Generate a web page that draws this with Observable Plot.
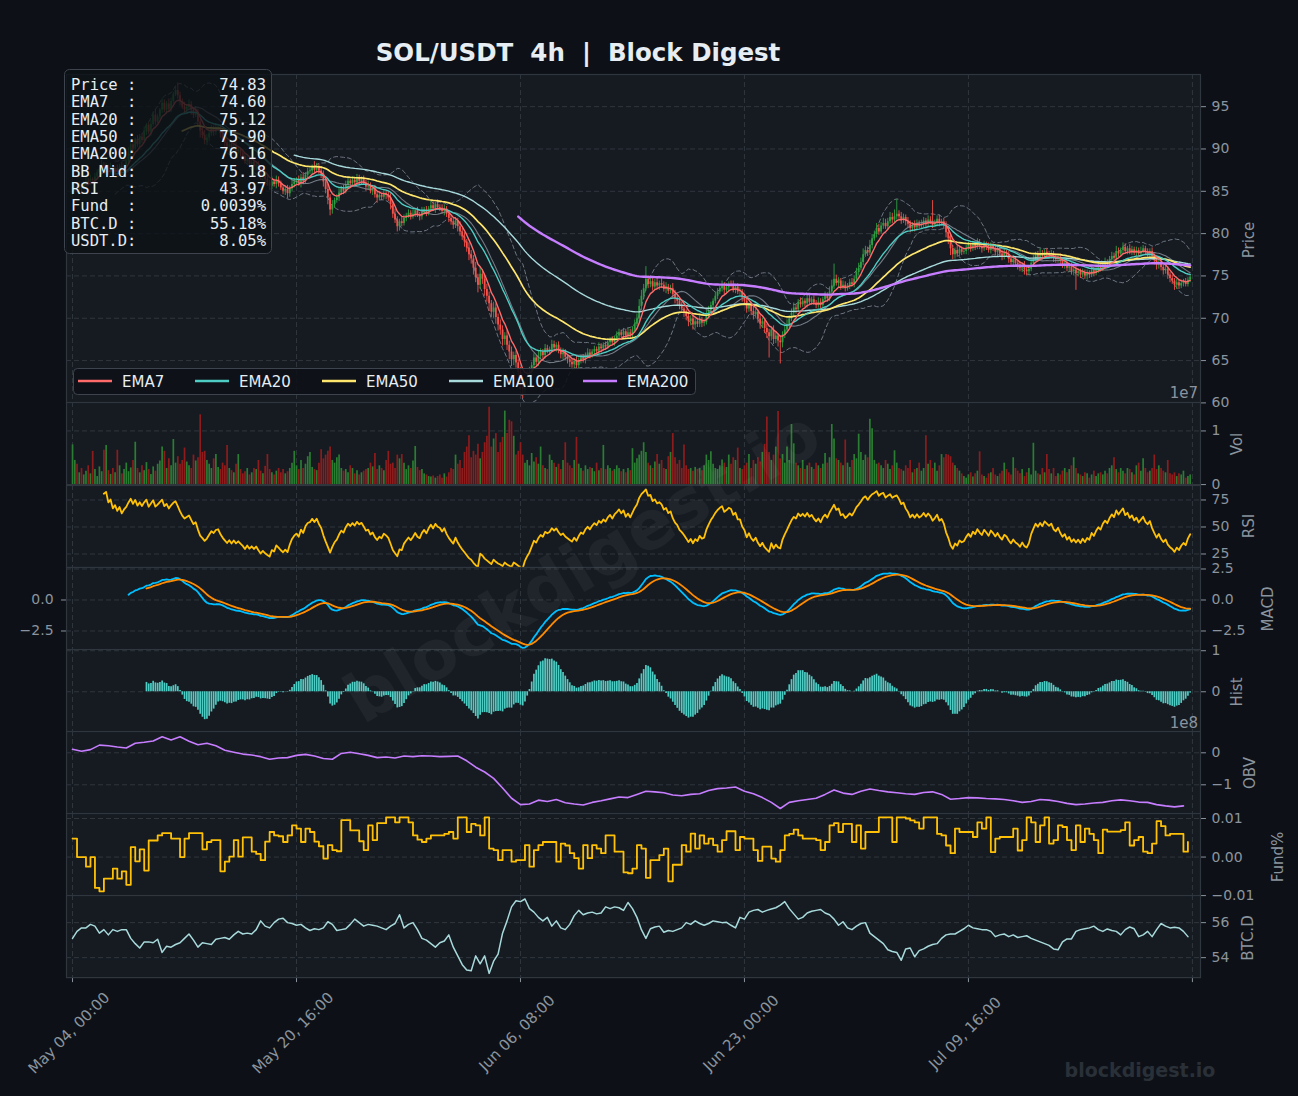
<!DOCTYPE html>
<html><head><meta charset="utf-8">
<script src="https://cdn.jsdelivr.net/npm/d3@7"></script>
<script src="https://cdn.jsdelivr.net/npm/@observablehq/plot@0.6"></script>
<style>
html,body{margin:0;padding:0;background:#0d1117;}
#root{position:relative;width:1298px;height:1096px;background:#0d1117;overflow:hidden;font-family:"DejaVu Sans",sans-serif;}
#root svg{position:absolute;left:0;}
</style></head><body><div id="root"></div>
<script>
// ---------------- DATA ----------------
const firstOpen = 84.8;
const closes = [
85.0,85.4,85.2,85.7,85.5,85.9,86.2,86.0,86.4,86.3,
86.7,87.2,87.6,88.1,87.4,87.9,87.2,87.8,87.1,87.7,
87.2,87.9,87.3,88.0,88.5,89.5,90.5,90.0,91.1,90.5,
91.4,91.0,92.0,92.8,92.0,92.9,94.0,93.2,93.8,94.6,
95.4,94.6,95.3,94.7,95.6,96.4,96.9,96.3,95.6,95.0,
94.6,94.9,95.2,94.6,94.0,94.3,93.2,92.1,91.6,91.0,
91.3,91.8,92.3,92.0,92.4,92.5,91.8,91.2,90.7,90.2,
90.5,89.9,90.2,89.7,89.9,89.5,89.1,88.5,88.8,88.2,
88.4,87.9,88.1,87.4,86.7,86.9,86.4,86.0,85.6,86.1,
85.8,86.3,85.9,85.4,85.0,85.2,84.7,85.3,85.8,86.1,
86.3,85.9,86.6,86.2,86.9,87.3,87.4,87.8,87.5,87.9,
87.4,87.0,86.1,85.2,84.2,82.8,83.4,83.9,84.2,84.8,
85.3,85.0,85.7,86.2,85.9,86.3,86.0,86.5,86.2,86.4,
86.0,85.5,85.6,85.0,85.2,84.6,84.2,84.5,84.3,84.7,
84.5,84.2,83.4,82.3,81.6,80.8,81.4,81.2,81.8,82.1,
82.4,82.0,82.3,82.7,82.2,82.0,82.5,82.8,82.4,82.9,
83.3,82.9,83.4,83.1,83.0,82.6,82.9,82.3,81.8,81.4,
81.0,81.5,80.8,80.2,79.6,79.0,78.3,77.5,77.0,75.9,
74.8,73.9,75.2,74.6,73.4,72.6,71.7,70.7,71.2,70.1,
69.2,68.6,67.5,67.9,66.8,66.0,65.1,65.6,64.7,63.6,
62.2,61.6,62.5,63.1,63.6,64.4,65.3,64.8,65.5,66.0,
65.6,66.4,66.1,66.3,66.9,66.5,66.8,66.2,65.7,65.9,
65.4,65.1,64.8,64.5,64.9,64.4,64.9,65.3,65.1,65.6,
65.9,65.6,66.0,66.3,66.1,66.6,66.4,66.8,66.6,67.1,
67.4,67.1,67.6,67.9,68.3,68.0,68.4,67.9,68.3,68.0,
68.6,69.3,69.9,71.4,72.6,73.5,74.6,74.0,74.3,73.7,
74.2,73.8,74.1,73.9,73.4,73.7,73.2,73.5,72.8,72.3,
72.0,71.4,71.1,70.7,70.2,69.6,69.9,69.2,69.6,69.3,
69.8,69.4,69.5,70.3,70.9,71.5,72.0,72.6,73.1,73.5,
73.8,73.3,73.6,74.0,73.9,73.4,73.7,73.1,73.1,72.4,
72.0,71.1,71.5,70.8,70.4,70.7,69.9,69.3,69.6,68.8,
68.3,67.8,68.6,67.5,67.9,67.3,67.1,68.0,68.6,69.2,
69.9,70.6,71.2,71.0,71.9,71.6,72.0,71.7,72.3,71.9,
72.2,71.8,71.5,71.9,71.5,72.2,72.6,72.3,73.1,73.8,
74.6,74.1,74.4,73.7,73.9,73.5,73.8,74.2,74.0,74.6,
75.4,75.9,76.6,77.5,78.0,77.7,78.6,79.4,79.9,80.6,
80.2,80.9,81.2,80.8,81.4,81.9,81.6,82.0,82.3,82.0,
81.6,81.9,81.4,81.1,80.6,81.0,80.7,81.2,80.9,81.1,
81.5,81.2,81.6,81.4,81.0,81.3,81.7,81.2,81.4,81.0,
80.1,79.4,78.2,77.5,78.0,77.6,78.1,77.8,77.9,78.3,
78.6,78.2,78.7,78.4,78.9,78.5,78.2,78.7,78.4,78.0,
78.5,78.2,77.8,78.1,77.6,77.3,77.7,77.5,77.0,76.6,
76.9,76.5,76.3,75.9,76.2,75.7,75.5,75.8,76.5,77.0,
77.5,77.2,77.6,77.3,77.8,77.6,77.4,77.6,77.1,76.9,
77.2,76.7,76.3,76.5,75.9,76.1,75.5,75.7,75.3,75.5,
75.1,75.4,75.0,75.3,75.1,75.6,75.3,75.7,76.0,75.8,
76.3,76.6,76.4,76.9,77.3,77.1,77.9,77.6,78.0,78.4,
77.9,78.2,77.8,78.1,77.7,78.0,77.6,77.9,78.2,77.8,
77.6,77.9,77.3,76.8,76.3,76.6,76.0,75.6,75.8,75.1,
74.7,74.4,73.9,74.2,73.8,74.1,74.3,74.0,74.5,74.83];

// upper / lower wick length, in tenths of USDT
const hiWick = [
3,4,2,5,3,2,4,3,5,2, 4,3,2,6,3,4,2,5,3,2, 4,3,5,2,3,6,4,3,2,5, 3,4,6,2,3,5,4,7,3,2, 5,4,3,6,4,3,5,9,4,3,
5,3,6,4,3,7,4,3,5,6, 4,3,5,4,6,3,4,5,3,4, 5,3,4,6,3,2,4,3,5,3, 4,6,3,4,5,3,2,4,3,6, 3,5,4,3,2,4,5,3,6,4,
3,5,4,6,3,4,5,3,7,4, 3,5,4,3,6,4,5,3,4,6, 3,4,5,3,2,4,3,5,4,3, 4,3,6,4,3,5,3,4,2,5, 3,4,5,3,6,4,3,5,4,3,
4,3,5,2,4,3,6,3,4,3, 5,4,3,6,3,4,5,3,4,3, 5,4,3,6,4,5,3,6,5,4, 7,4,9,5,4,6,5,4,7,5, 4,6,5,4,7,5,6,4,5,4,
6,5,4,7,6,4,5,3,6,4, 3,5,4,3,5,4,3,4,3,5, 4,3,5,4,3,6,4,3,4,3, 5,4,3,4,3,5,4,3,4,5, 3,4,3,5,4,3,4,3,5,4,
4,5,6,8,7,5,15,4,5,6, 4,5,3,6,4,5,3,4,6,5, 4,3,5,4,3,5,4,6,3,4, 5,3,4,6,5,4,3,5,4,3, 6,4,5,3,4,5,3,4,5,3,
4,5,3,4,6,4,3,5,4,3, 5,4,3,5,4,3,6,4,5,6, 4,5,6,4,3,5,4,3,5,4, 3,4,3,5,4,3,5,4,6,7, 18,5,4,3,5,4,3,4,5,4,
5,6,5,7,5,4,6,5,4,6, 5,4,6,5,4,6,5,8,17,4, 5,4,3,5,4,3,5,4,3,5, 4,3,5,4,25,3,4,5,3,4, 4,3,5,4,3,5,4,3,4,3,
4,3,4,3,5,4,3,4,3,5, 4,3,5,4,3,4,5,3,4,3, 5,4,3,4,3,5,4,3,5,4, 3,4,6,4,3,4,3,4,3,5, 3,4,3,5,4,3,4,3,4,3,
3,4,3,4,3,4,3,4,5,3, 4,5,3,4,5,4,6,4,3,5, 4,3,5,4,3,4,3,5,4,3, 4,3,4,3,5,3,4,3,4,3, 3,4,3,4,3,4,3,4,3,3];
const loWick = [
3,2,4,3,5,3,2,4,3,5, 3,4,2,3,4,5,3,2,4,3, 5,3,2,4,3,4,3,5,2,3, 4,3,2,4,3,5,3,4,2,3, 4,3,5,3,4,3,2,4,5,3,
4,5,3,6,4,3,5,8,4,5, 6,4,3,5,4,3,5,4,6,5, 4,3,5,4,3,4,5,3,4,5, 3,4,5,3,4,5,3,4,5,4, 3,5,4,3,4,5,6,4,3,4,
4,3,5,4,3,4,3,5,4,3, 4,5,6,5,8,7,5,4,3,4, 3,4,3,5,4,3,4,3,5,4, 3,5,4,3,5,4,6,3,4,3, 5,4,6,5,4,6,5,4,3,4,
3,4,3,4,3,5,4,3,4,3, 4,3,5,3,4,3,5,4,5,4, 5,4,6,5,4,6,5,7,6,8, 6,9,5,6,8,7,9,6,7,8, 7,6,8,7,6,9,8,7,6,8,
7,11,6,5,4,6,5,4,5,4, 5,4,3,5,4,3,5,4,5,6, 4,5,6,4,7,5,4,3,4,5, 3,4,3,4,3,4,5,3,4,3, 4,3,4,3,4,3,4,3,4,3,
3,4,3,4,5,4,3,5,4,5, 4,3,5,4,3,5,4,3,5,6, 5,4,5,6,5,6,5,6,5,4, 4,5,4,3,4,3,4,3,4,3, 4,5,3,4,3,4,5,3,4,5,
4,5,4,5,6,4,5,6,5,6, 7,25,5,6,5,7,25,6,4,3, 4,3,4,5,3,4,3,4,5,3, 4,3,4,3,5,4,3,4,3,4, 4,3,5,4,3,4,3,4,3,4,
3,4,3,4,3,4,3,4,3,4, 4,3,4,3,4,3,4,3,4,3, 5,4,5,4,5,4,5,4,3,4, 4,5,4,3,4,3,5,4,3,5, 6,7,8,6,5,4,3,4,3,4,
3,4,3,4,3,4,5,3,4,3, 4,3,4,5,4,5,4,3,5,4, 4,5,6,4,5,6,5,4,3,4, 3,4,3,4,3,4,3,4,5,4, 4,5,4,5,4,5,4,5,20,4,
4,3,4,5,4,3,4,3,4,3, 3,4,3,4,3,4,3,4,3,4, 3,4,3,4,3,4,3,4,3,4, 4,5,4,5,6,5,4,5,4,5, 5,4,6,5,4,3,4,3,3,3];

// volume per candle, in units of 1e5
const volumeE5 = [
74,45,38,22,30,18,25,35,20,62, 28,15,33,24,64,73,26,19,30,22, 64,35,20,28,40,24,31,45,79,30, 22,35,26,41,28,19,33,25,38,44, 70,62,30,48,35,84,40,52,38,45,
68,42,35,30,55,44,50,130,60,62, 45,38,30,48,56,32,28,40,35,73, 30,26,22,38,56,28,20,24,30,18, 22,30,28,45,25,20,34,56,28,22, 18,25,30,22,28,20,24,30,40,62,
35,28,45,30,38,52,60,32,28,26, 40,65,48,55,62,70,45,40,50,55, 30,25,28,22,35,30,20,26,18,22, 25,28,30,40,33,58,28,35,30,26, 45,62,38,40,30,55,48,56,40,28,
35,30,44,71,32,26,28,20,18,15, 14,16,12,15,18,12,20,14,22,30, 28,55,38,45,30,60,70,91,50,62, 55,75,48,60,78,90,144,70,85,95, 60,78,88,137,95,120,117,90,55,62,
78,55,40,45,35,58,42,50,38,70, 35,30,28,55,45,40,32,38,28,45, 78,40,35,30,45,88,38,30,25,35, 28,32,30,24,40,26,30,73,28,35, 30,25,28,35,30,24,28,22,30,26,
67,40,48,55,62,78,60,40,35,30, 42,56,38,45,30,28,52,60,95,50, 38,45,30,74,35,28,30,25,32,28, 30,26,35,55,45,61,38,30,28,35, 46,40,32,55,38,50,45,68,30,28,
35,40,56,30,45,38,50,42,60,75, 126,60,45,55,70,136,48,56,40,70, 45,112,76,40,35,30,45,28,35,40, 32,28,40,35,30,38,58,40,50,112, 85,48,45,40,35,83,40,32,45,56,
48,94,60,45,55,50,122,104,45,38, 40,35,30,45,38,28,35,63,40,30, 28,25,35,30,45,22,28,30,40,25, 30,91,38,45,30,40,25,35,56,50, 56,55,52,40,35,30,25,20,15,12,
18,22,14,20,25,61,18,15,12,20, 22,30,18,15,20,25,40,28,22,18, 50,30,25,20,28,15,22,30,18,77, 25,20,18,30,22,56,28,20,30,15, 20,18,25,30,22,28,35,50,30,20,
18,15,22,20,12,18,25,15,20,22, 18,25,20,30,35,50,28,22,30,25, 20,30,28,22,18,35,40,25,48,30, 22,25,30,55,28,35,30,25,22,45, 20,18,22,15,20,18,25,12,15,18];

// OBV, one reading every 4 candles, units of 1e8
const obvStep = 4;
const obvE8 = [
0.11,0.05,0.10,0.24,0.22,0.18,0.15,0.30,0.33,0.37,0.50,0.40,0.50,0.36,0.25,0.30,0.22,0.08,0.02,-0.04,
-0.07,-0.12,-0.20,-0.16,-0.15,-0.08,-0.05,-0.10,-0.18,-0.20,-0.02,0.02,-0.03,-0.08,-0.15,-0.13,-0.16,-0.10,-0.12,-0.09,
-0.10,-0.12,-0.11,-0.10,-0.25,-0.45,-0.60,-0.80,-1.10,-1.42,-1.62,-1.60,-1.48,-1.52,-1.46,-1.56,-1.60,-1.63,-1.55,-1.50,
-1.44,-1.38,-1.40,-1.30,-1.20,-1.22,-1.25,-1.32,-1.34,-1.30,-1.28,-1.18,-1.12,-1.10,-1.07,-1.20,-1.28,-1.40,-1.55,-1.74,
-1.55,-1.50,-1.46,-1.42,-1.30,-1.16,-1.26,-1.30,-1.20,-1.13,-1.18,-1.22,-1.25,-1.28,-1.30,-1.24,-1.22,-1.30,-1.45,-1.43,
-1.40,-1.41,-1.43,-1.44,-1.46,-1.50,-1.55,-1.52,-1.46,-1.48,-1.52,-1.58,-1.62,-1.60,-1.57,-1.55,-1.50,-1.47,-1.50,-1.54,
-1.55,-1.62,-1.66,-1.69,-1.66];

// funding rate, one reading every 8h (2 candles), units of 1e-4 %
const fundStep = 2;
const fundE4 = [
48,0,0,-25,0,-80,-89,-56,-56,-30, -56,-37,-72,26,-11,20,-35,43,43,56, 62,62,48,48,0,48,62,62,62,20,
39,44,44,-37,-12,1,44,1,51,51, 14,8,-8,40,65,56,54,39,56,82, 74,39,74,65,40,28,-4,31,18,15,
96,96,69,69,41,18,82,44,88,88, 103,103,90,103,103,90,56,45,39,48, 56,56,56,60,65,48,103,103,65,86,
82,56,103,22,18,-8,18,18,-12,-8, -8,31,-25,18,31,39,39,39,-12,35, 30,10,-3,-30,31,-3,31,22,10,56,
56,14,14,-40,-42,-30,31,22,-54,-8, -8,5,22,-63,-20,-20,31,14,61,22, 56,35,48,31,14,44,67,67,18,52,
48,48,18,-10,27,27,-4,-12,18,56, 60,71,56,48,48,48,44,18,39,82, 88,65,86,86,39,82,22,65,65,65,
103,103,103,39,103,103,100,95,90,74, 103,103,103,60,56,30,10,74,65,65, 65,52,90,74,103,13,48,52,52,52,
74,17,44,103,90,39,82,103,35,44, 82,78,44,18,82,39,74,60,44,10, 71,66,66,66,70,90,30,44,52,14,
10,35,93,80,56,60,60,60,14,39];

// BTC dominance %, one reading every 8h (2 candles)
const btcStep = 2;
const btcDom = [
55.1,55.5,55.7,55.7,55.9,55.8,55.4,55.6,55.3,55.6, 55.5,55.6,55.6,55.1,54.8,54.55,54.9,54.9,54.85,55.05,
54.3,54.65,54.6,54.75,54.85,55.1,55.35,55.0,54.6,54.85, 54.8,54.75,55.05,55.1,55.15,55.05,55.3,55.5,55.35,55.4,
55.35,55.6,56.1,55.8,55.7,56.0,56.2,56.25,56.0,55.95, 55.85,55.9,55.7,55.55,55.65,55.6,55.7,56.05,55.9,55.55,
55.6,55.65,55.9,56.2,56.0,55.8,55.9,55.85,55.8,55.7, 55.6,55.8,55.95,56.45,55.7,55.9,56.0,55.6,55.1,55.0,
54.8,54.6,54.85,54.95,55.3,54.6,54.1,53.6,53.3,53.25, 54.1,53.65,54.1,53.1,53.8,54.2,55.4,56.1,56.9,57.25,
57.2,57.35,56.8,56.6,56.3,56.1,56.3,55.8,56.1,55.7, 55.6,55.9,56.4,56.7,56.45,56.55,56.6,56.5,56.55,56.9,
56.8,56.9,56.85,56.7,57.15,56.8,56.3,55.6,55.1,55.65, 55.75,55.8,55.45,55.55,55.5,55.6,55.7,56.0,55.9,56.1,
55.95,55.85,55.95,56.1,56.05,56.0,56.02,55.85,55.7,56.3, 56.2,56.6,56.7,56.75,56.6,56.7,56.78,56.85,57.0,57.2,
56.8,56.5,56.2,56.3,56.55,56.65,56.7,56.75,56.55,56.45, 56.2,55.85,56.05,55.7,55.6,55.8,55.95,56.0,55.4,55.2,
55.0,54.8,54.45,54.35,54.3,53.85,54.5,54.55,54.05,54.4, 54.5,54.65,54.75,54.8,55.1,55.3,55.35,55.35,55.5,55.65,
55.85,55.7,55.65,55.6,55.6,55.5,55.2,55.3,55.35,55.2, 55.3,55.15,55.2,55.25,55.1,55.0,54.9,54.8,54.7,54.5,
54.45,54.9,55.07,55.07,55.5,55.6,55.65,55.7,55.8,55.6, 55.5,55.64,55.55,55.5,55.3,55.6,55.75,55.65,55.2,55.3,
55.5,55.2,55.6,55.95,55.8,55.7,55.73,55.7,55.5,55.2];

const xTickIdx = [0, 100, 200, 300, 400, 500];
const xTickLabels = ["May 04, 00:00", "May 20, 16:00", "Jun 06, 08:00", "Jun 23, 00:00", "Jul 09, 16:00", ""];

const infoLabels = ["Price :", "EMA7  :", "EMA20 :", "EMA50 :", "EMA200:", "BB Mid:", "RSI   :", "Fund  :", "BTC.D :", "USDT.D:"];
const infoValues = ["74.83", "74.60", "75.12", "75.90", "76.16", "75.18", "43.97", "0.0039%", "55.18%", "8.05%"];

const legendNames = ["EMA7", "EMA20", "EMA50", "EMA100", "EMA200"];
const titleText = "SOL/USDT  4h  |  Block Digest";

// ---------------- INDICATORS (computed from the closes) ----------------
function ema(arr, span) {
  const a = 2 / (span + 1); let num = 0, den = 0, n = 0;
  return arr.map(v => {
    if (v == null || isNaN(v)) return NaN;
    num = v + (1 - a) * num; den = 1 + (1 - a) * den; n++;
    return n >= span ? num / den : NaN;
  });
}
function emaFull(arr, span) {
  const a = 2 / (span + 1); let num = 0, den = 0;
  return arr.map(v => { num = v + (1 - a) * num; den = 1 + (1 - a) * den; return num / den; });
}
function sma(arr, n) { return arr.map((_, i) => i < n - 1 ? NaN : d3.mean(arr.slice(i - n + 1, i + 1))); }
function sd(arr, n) { return arr.map((_, i) => i < n - 1 ? NaN : d3.deviation(arr.slice(i - n + 1, i + 1))); }
function rsiWilder(c, n) {
  const a = 1 / n; let ag = null, al = null, cnt = 0;
  return c.map((v, i) => {
    if (i === 0) return NaN;
    const d = v - c[i - 1], g = Math.max(d, 0), l = Math.max(-d, 0);
    if (ag === null) { ag = g; al = l; } else { ag = a * g + (1 - a) * ag; al = a * l + (1 - a) * al; }
    cnt++;
    if (cnt < n) return NaN;
    return al === 0 ? 100 : 100 - 100 / (1 + ag / al);
  });
}
const e7 = ema(closes, 7), e20 = ema(closes, 20), e50 = ema(closes, 50), e100 = ema(closes, 100), e200 = ema(closes, 200);
const bbMid = sma(closes, 20), bbSd = sd(closes, 20);
const rsiV = rsiWilder(closes, 14);
const f12 = emaFull(closes, 12), f26 = emaFull(closes, 26);
const macd = closes.map((_, i) => i < 25 ? NaN : f12[i] - f26[i]);
const signal = ema(macd, 9);
const hist = macd.map((m, i) => m - signal[i]);

const rows = closes.map((c, i) => {
  const o = i === 0 ? firstOpen : closes[i - 1];
  return { i, open: o, close: c, high: Math.max(o, c) + hiWick[i] / 10, low: Math.min(o, c) - loWick[i] / 10,
    up: c >= o, vol: volumeE5[i] / 100,
    e7: e7[i], e20: e20[i], e50: e50[i], e100: e100[i], e200: e200[i],
    bbU: bbMid[i] + 2 * bbSd[i], bbM: bbMid[i], bbL: bbMid[i] - 2 * bbSd[i],
    rsi: rsiV[i], macd: macd[i], sig: signal[i], hist: hist[i] };
});
const obvRows = obvE8.map((v, k) => ({ i: k * obvStep, v }));
const fundRows = fundE4.map((v, k) => ({ i: k * fundStep, v: v / 10000 }));
const btcRows = btcDom.map((v, k) => ({ i: k * btcStep, v }));

// ---------------- STYLE / LAYOUT ----------------
const C = { bg: "#0d1117", panel: "#161b22", border: "#30363d", grid: "#30363d", text: "#8b949e", bright: "#e6edf3",
  up: "#2ea043", down: "#f85149", volUp: "#2a7d32", volDown: "#8e1c1c",
  e7: "#ff6b6b", e20: "#4ecdc4", e50: "#ffe66d", e100: "#a8dadc", e200: "#c77dff",
  rsi: "#ffc107", macd: "#00bfff", sig: "#ff8c00", hist: "#4ecdc4", obv: "#c77dff", fund: "#ffc107", btc: "#a8dadc" };
const edges = [74, 402.4, 484.5, 566.5, 648.6, 730.7, 812.8, 894.9, 977];
const xDomain = [-2.68, 503.6];
const root = document.getElementById("root");
const minus = f => d => (d < 0 ? "\u2212" : "") + f(Math.abs(d));
const f0 = minus(d3.format("d")), f1 = minus(d3.format(".1f")), f2 = minus(d3.format(".2f"));
const upColor = d => d.up ? C.up : C.down;

function panel(k, cfg) {
  const top = edges[k], bottom = edges[k + 1], h = bottom - top;
  const mb = cfg.marginBottom || 0;
  const marks = [
    Plot.frame({ fill: C.panel, stroke: null }),
    Plot.gridX(xTickIdx, { stroke: C.grid, strokeOpacity: 1, strokeDasharray: "5,3" }),
    Plot.gridY(cfg.ticks, { stroke: C.grid, strokeOpacity: 1, strokeDasharray: "5,3" }),
    ...cfg.marks,
    Plot.axisY(cfg.ticks, { anchor: "right", tickFormat: cfg.fmt, tickSize: 5, tickPadding: 6, fontSize: 14, label: null }),
    ...(cfg.left ? [Plot.axisY(cfg.left, { anchor: "left", tickFormat: cfg.fmt, tickSize: 5, tickPadding: 8, fontSize: 14, label: null })] : []),
    ...(cfg.extra || []),
    Plot.frame({ stroke: C.border, strokeWidth: 1.2 })
  ];
  const svg = Plot.plot({
    width: 1298, height: h + mb, marginLeft: 66, marginRight: 98, marginTop: 0, marginBottom: mb,
    x: { domain: xDomain, axis: null }, y: { domain: cfg.domain, axis: null },
    style: { background: "transparent", overflow: "visible", color: C.text, fontFamily: "DejaVu Sans, sans-serif" },
    marks
  });
  svg.style.top = top + "px";
  root.append(svg);
}

// Price
panel(0, { domain: [60, 98.8], ticks: [60, 65, 70, 75, 80, 85, 90, 95], fmt: f0, marks: [
  Plot.line(rows, { x: "i", y: "bbU", stroke: "#6e7681", strokeWidth: 1, strokeDasharray: "4,3", clip: true }),
  Plot.line(rows, { x: "i", y: "bbL", stroke: "#6e7681", strokeWidth: 1, strokeDasharray: "4,3", clip: true }),
  Plot.ruleX(rows, { x: "i", y1: "low", y2: "high", stroke: upColor, strokeWidth: 0.9, clip: true }),
  Plot.ruleX(rows, { x: "i", y1: "open", y2: "close", stroke: upColor, strokeWidth: 1.8, clip: true }),
  Plot.line(rows, { x: "i", y: "bbM", stroke: "#8b949e", strokeWidth: 1.1, strokeOpacity: 0.8, clip: true }),
  Plot.line(rows, { x: "i", y: "e100", stroke: C.e100, strokeWidth: 1.4, clip: true }),
  Plot.line(rows, { x: "i", y: "e50", stroke: C.e50, strokeWidth: 1.7, clip: true }),
  Plot.line(rows, { x: "i", y: "e20", stroke: C.e20, strokeWidth: 1.4, clip: true }),
  Plot.line(rows, { x: "i", y: "e7", stroke: C.e7, strokeWidth: 1.4, clip: true }),
  Plot.line(rows, { x: "i", y: "e200", stroke: C.e200, strokeWidth: 2.4, clip: true })
]});
// Volume
panel(1, { domain: [0, 1.53], ticks: [0, 1], fmt: f0, marks: [
  Plot.ruleX(rows, { x: "i", y1: 0, y2: "vol", stroke: d => d.up ? C.volUp : C.volDown, strokeWidth: 1.7, clip: true })
]});
// RSI
panel(2, { domain: [12.5, 88.4], ticks: [25, 50, 75], fmt: f0, marks: [
  Plot.line(rows, { x: "i", y: "rsi", stroke: C.rsi, strokeWidth: 1.8, clip: true })
]});
// MACD
panel(3, { domain: [-4.0, 2.62], ticks: [-2.5, 0, 2.5], left: [-2.5, 0], fmt: f1, marks: [
  Plot.line(rows, { x: "i", y: "macd", stroke: C.macd, strokeWidth: 1.8, clip: true }),
  Plot.line(rows, { x: "i", y: "sig", stroke: C.sig, strokeWidth: 1.8, clip: true })
]});
// Hist
panel(4, { domain: [-0.97, 1.03], ticks: [0, 1], fmt: f0, marks: [
  Plot.ruleX(rows.filter(d => !isNaN(d.hist)), { x: "i", y1: 0, y2: "hist", stroke: C.hist, strokeWidth: 1.7, clip: true })
]});
// OBV
panel(5, { domain: [-1.9, 0.666], ticks: [-1, 0], fmt: f0, marks: [
  Plot.line(obvRows, { x: "i", y: "v", stroke: C.obv, strokeWidth: 1.6, clip: true })
]});
// Funding
panel(6, { domain: [-0.0100, 0.0113], ticks: [-0.01, 0, 0.01], fmt: f2, marks: [
  Plot.line(fundRows, { x: "i", y: "v", stroke: C.fund, strokeWidth: 1.8, curve: "step-after", clip: true })
]});
// BTC.D + time axis
panel(7, { domain: [52.86, 57.55], ticks: [54, 56], fmt: f0, marginBottom: 119, marks: [
  Plot.line(btcRows, { x: "i", y: "v", stroke: C.btc, strokeWidth: 1.5, clip: true })
], extra: [
  Plot.axisX(xTickIdx, { anchor: "bottom", tickSize: 5, tickFormat: () => "", label: null }),
  Plot.text(xTickIdx.map((t, j) => ({ t, s: xTickLabels[j] })).filter(d => d.s), {
    x: "t", text: "s", frameAnchor: "bottom", dy: 59, rotate: -45, textAnchor: "middle", fontSize: 15, fill: C.text })
]});

// ---------------- OVERLAY TEXT ----------------
const ov = d3.create("svg").attr("width", 1298).attr("height", 1096).style("top", "0px")
  .style("pointer-events", "none").attr("font-family", "DejaVu Sans, sans-serif");
ov.append("text").attr("transform", "translate(582,566) rotate(-31)").attr("text-anchor", "middle")
  .attr("dominant-baseline", "central").attr("font-size", 68).attr("font-weight", "bold")
  .attr("fill", "#ffffff").attr("fill-opacity", 0.045).text("blockdigest.io");
ov.append("text").attr("x", 1140).attr("y", 1077).attr("text-anchor", "middle").attr("font-size", 19)
  .attr("font-weight", "bold").attr("fill", "#2a3038").text("blockdigest.io");
ov.append("text").attr("x", 578).attr("y", 61).attr("text-anchor", "middle").attr("font-size", 24.5)
  .attr("font-weight", "bold").attr("fill", C.bright).style("white-space", "pre").text(titleText);
ov.append("rect").attr("x", 64.5).attr("y", 69.5).attr("width", 207).attr("height", 184).attr("rx", 5)
  .attr("fill", C.bg).attr("fill-opacity", 0.8).attr("stroke", "#3d444d");
infoLabels.forEach((l, j) => {
  const y = 90 + j * 17.33;
  ov.append("text").attr("x", 71).attr("y", y).attr("font-family", "DejaVu Sans Mono, monospace")
    .attr("font-size", 15.5).attr("fill", C.bright).style("white-space", "pre").text(l);
  ov.append("text").attr("x", 266).attr("y", y).attr("text-anchor", "end").attr("font-family", "DejaVu Sans Mono, monospace")
    .attr("font-size", 15.5).attr("fill", C.bright).text(infoValues[j]);
});
ov.append("rect").attr("x", 73.5).attr("y", 368.5).attr("width", 622).attr("height", 26).attr("rx", 4)
  .attr("fill", C.bg).attr("fill-opacity", 0.9).attr("stroke", "#3d444d");
const legX = [78, 195, 322, 449, 583];
const legColors = [C.e7, C.e20, C.e50, C.e100, C.e200];
legendNames.forEach((n, j) => {
  ov.append("line").attr("x1", legX[j]).attr("x2", legX[j] + 34).attr("y1", 381).attr("y2", 381)
    .attr("stroke", legColors[j]).attr("stroke-width", 2.6);
  ov.append("text").attr("x", legX[j] + 44).attr("y", 386.5).attr("font-size", 15).attr("fill", C.bright).text(n);
});
const axisTitles = [["Price", 1249, 240], ["Vol", 1237, 444], ["RSI", 1249, 526], ["MACD", 1268, 609],
  ["Hist", 1237, 692], ["OBV", 1250, 773], ["Fund%", 1278, 857], ["BTC.D", 1248, 938]];
axisTitles.forEach(([t, x, y]) => ov.append("text").attr("transform", `translate(${x},${y}) rotate(-90)`)
  .attr("text-anchor", "middle").attr("dominant-baseline", "central").attr("font-size", 15).attr("fill", C.text).text(t));
ov.append("text").attr("x", 1198).attr("y", 398).attr("text-anchor", "end").attr("font-size", 15).attr("fill", C.text).text("1e7");
ov.append("text").attr("x", 1198).attr("y", 728).attr("text-anchor", "end").attr("font-size", 15).attr("fill", C.text).text("1e8");
root.append(ov.node());
</script></body></html>
